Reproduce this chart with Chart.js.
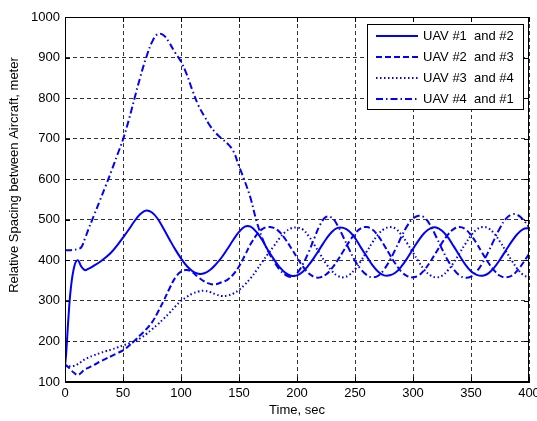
<!DOCTYPE html>
<html>
<head>
<meta charset="utf-8">
<title>Relative Spacing between Aircraft</title>
<script src="https://cdn.jsdelivr.net/npm/chart.js@4.4.0/dist/chart.umd.min.js"></script>
<style>
  html, body { margin: 0; padding: 0; background: #fff; }
  #wrap { width: 537px; height: 421px; }
</style>
</head>
<body>
<div id="wrap"><canvas id="spacingChart" width="537" height="421"></canvas></div>
<script>
// time stamps (sec) shared by all four spacing curves
const times = [0, 1, 3, 5, 8, 11, 14, 17,
  20, 25, 30, 35, 40, 45, 50, 55, 60, 65,
  70, 75, 80, 85, 90, 95, 100, 105, 110, 115,
  120, 125, 130, 135, 140, 145, 150, 155, 160, 165,
  170, 175, 180, 185, 190, 195, 200, 205, 210, 215,
  220, 225, 230, 235, 240, 245, 250, 255, 260, 265,
  270, 275, 280, 285, 290, 295, 300, 305, 310, 315,
  320, 325, 330, 335, 340, 345, 350, 355, 360, 365,
  370, 375, 380, 385, 390, 395, 400];

// spacing in meters
const pair12 = [140, 170, 260, 330, 385, 400, 385, 376,
  379, 387, 396, 407, 420, 437, 456, 476, 497, 514,
  523, 518, 502, 478, 452, 427, 405, 386, 373, 367,
  368, 376, 390, 407, 428, 450, 470, 483, 483, 470,
  450, 425, 403, 383, 369, 362, 363, 372, 388, 408,
  430, 452, 470, 480, 480, 472, 455, 432, 410, 388,
  372, 363, 363, 370, 385, 405, 428, 450, 468, 479,
  481, 473, 457, 435, 412, 390, 373, 364, 362, 368,
  382, 402, 424, 446, 465, 477, 480];

const pair23 = [142, 141, 136, 130, 122, 117, 123, 131,
  135, 142, 150, 157, 164, 171, 178, 189, 202, 216,
  230, 247, 272, 300, 330, 357, 372, 376, 370, 358,
  348, 342, 341, 346, 352, 365, 385, 412, 440, 462,
  477, 482, 480, 470, 452, 430, 407, 385, 368, 359,
  358, 365, 380, 400, 423, 446, 466, 479, 482, 476,
  460, 438, 414, 391, 372, 361, 358, 363, 377, 397,
  420, 443, 463, 477, 482, 477, 462, 441, 417, 394,
  375, 362, 358, 362, 375, 394, 416];

const pair34 = [140, 140, 139, 139, 140, 144, 150, 156,
  160, 166, 171, 176, 180, 185, 190, 195, 200, 208,
  218, 230, 242, 256, 270, 286, 300, 310, 318, 323,
  325, 322, 316, 312, 313, 318, 327, 340, 356, 375,
  396, 416, 435, 455, 470, 479, 481, 476, 460, 438,
  415, 392, 374, 362, 358, 364, 378, 398, 421, 444,
  464, 477, 482, 478, 463, 442, 419, 396, 376, 363,
  358, 362, 375, 394, 417, 440, 461, 476, 482, 479,
  466, 446, 423, 400, 379, 364, 358];

const pair41 = [425, 425, 425, 425, 426, 428, 432, 452,
  475, 511, 547, 583, 620, 659, 698, 746, 800, 853,
  900, 938, 958, 955, 936, 912, 890, 858, 818, 782,
  756, 732, 714, 700, 688, 670, 632, 595, 553, 498,
  455, 423, 398, 377, 364, 359, 368, 390, 420, 455,
  488, 507, 505, 486, 457, 427, 399, 378, 364, 358,
  362, 377, 400, 428, 458, 485, 503, 510, 505, 486,
  458, 428, 400, 378, 363, 357, 360, 373, 394, 421,
  451, 480, 502, 513, 512, 500, 482];

const seriesNames = ["UAV #1  and #2", "UAV #2  and #3", "UAV #3  and #4", "UAV #4  and #1"];
const seriesValues = [pair12, pair23, pair34, pair41];
const dashes = [[], [6, 3], [1.5, 2.5], [7, 3, 1.5, 3]];

const yTitle = "Relative Spacing between Aircraft, meter";

const FONT = "'Liberation Sans', Arial, Helvetica, sans-serif";
const FONT_SIZE = 13;
const BLUE = "#0000ff";

// solid box round the axes with inward tick marks
const axesFrame = {
  id: "axesFrame",
  afterDatasetsDraw(chart) {
    const {ctx, chartArea: a, scales} = chart;
    ctx.save();
    ctx.strokeStyle = "#000";
    ctx.lineWidth = 1;
    ctx.setLineDash([]);
    ctx.strokeRect(a.left + 0.5, a.top + 0.5, a.right - a.left - 1, a.bottom - a.top - 1);
    ctx.beginPath();
    scales.x.ticks.forEach(t => {
      const px = Math.round(scales.x.getPixelForValue(t.value)) + 0.5;
      ctx.moveTo(px, a.bottom); ctx.lineTo(px, a.bottom - 5);
      ctx.moveTo(px, a.top); ctx.lineTo(px, a.top + 5);
    });
    scales.y.ticks.forEach(t => {
      const py = Math.round(scales.y.getPixelForValue(t.value)) + 0.5;
      ctx.moveTo(a.left, py); ctx.lineTo(a.left + 5, py);
      ctx.moveTo(a.right, py); ctx.lineTo(a.right - 5, py);
    });
    ctx.stroke();

    // y axis label, sits a bit above the middle of the axis
    ctx.fillStyle = "#000";
    ctx.font = FONT_SIZE + "px " + FONT;
    ctx.textAlign = "center";
    ctx.textBaseline = "middle";
    ctx.translate(14, 175);
    ctx.rotate(-Math.PI / 2);
    ctx.fillText(yTitle, 0, 0);
    ctx.restore();
  }
};

// boxed legend in the upper right corner of the axes
const boxLegend = {
  id: "boxLegend",
  afterDraw(chart) {
    const {ctx, chartArea: a} = chart;
    const w = 156, h = 85;
    const left = a.right - 6 - w, top = a.top + 7;
    ctx.save();
    ctx.fillStyle = "#fff";
    ctx.fillRect(left, top, w, h);
    ctx.strokeStyle = "#000";
    ctx.lineWidth = 1;
    ctx.setLineDash([]);
    ctx.strokeRect(left + 0.5, top + 0.5, w, h);
    ctx.font = FONT_SIZE + "px " + FONT;
    ctx.textBaseline = "middle";
    chart.data.datasets.forEach((ds, i) => {
      const y = top + 12 + i * 21;
      ctx.strokeStyle = ds.borderColor;
      ctx.lineWidth = 2;
      ctx.setLineDash(ds.borderDash);
      ctx.beginPath();
      ctx.moveTo(left + 9, y);
      ctx.lineTo(left + 51, y);
      ctx.stroke();
      ctx.fillStyle = "#000";
      ctx.fillText(ds.label, left + 56, y);
    });
    ctx.restore();
  }
};

const ctx = document.getElementById("spacingChart").getContext("2d");

new Chart(ctx, {
  type: "line",
  data: {
    datasets: seriesValues.map((vals, i) => ({
      label: seriesNames[i],
      data: times.map((t, k) => ({x: t, y: vals[k]})),
      borderColor: BLUE,
      borderWidth: 2,
      borderDash: dashes[i],
      pointRadius: 0,
      fill: false,
      tension: 0.4
    }))
  },
  options: {
    responsive: false,
    animation: false,
    layout: {padding: {top: 17, right: 8, left: 0, bottom: 0}},
    plugins: {
      legend: {display: false},
      tooltip: {enabled: false}
    },
    scales: {
      x: {
        type: "linear",
        min: 0,
        max: 400,
        ticks: {stepSize: 50, color: "#000", padding: 4, maxRotation: 0,
          font: {size: FONT_SIZE, family: FONT}, callback: v => String(v)},
        grid: {color: "rgba(0,0,0,0.8)", lineWidth: 1, drawTicks: false},
        border: {display: true, color: "#000", dash: [4, 3]},
        title: {display: true, text: "Time, sec", color: "#000", padding: {top: 0, bottom: 3}, font: {size: FONT_SIZE, family: FONT}},
        afterFit(scale) {
          scale.height = 39;
          scale.paddingRight = 0;
          scale.paddingLeft = 0;
        }
      },
      y: {
        min: 100,
        max: 1000,
        ticks: {stepSize: 100, color: "#000", padding: 5,
          font: {size: FONT_SIZE, family: FONT}, callback: v => String(v)},
        grid: {color: "rgba(0,0,0,0.8)", lineWidth: 1, drawTicks: false},
        border: {display: true, color: "#000", dash: [4, 3]},
        afterFit(scale) {
          scale.width = 65;
          scale.paddingTop = 0;
          scale.paddingBottom = 0;
        }
      }
    }
  },
  plugins: [axesFrame, boxLegend]
});
</script>
</body>
</html>
